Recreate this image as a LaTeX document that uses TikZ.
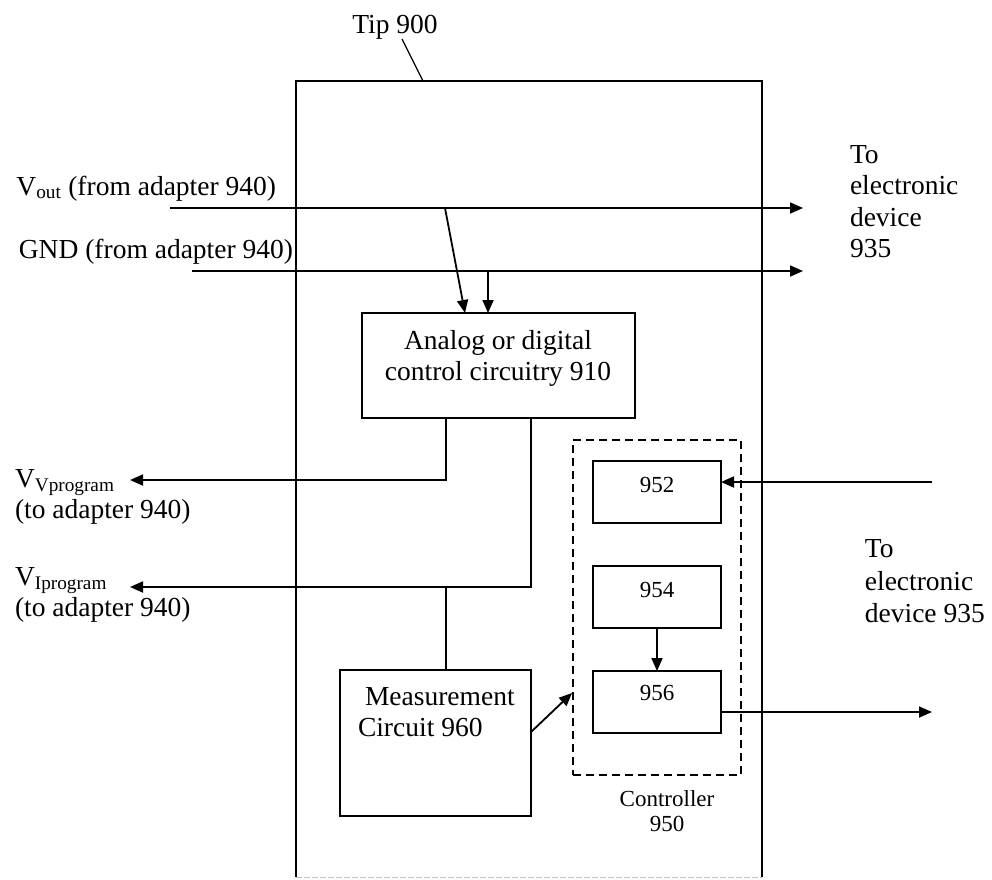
\documentclass[tikz,border=0pt]{standalone}
\usepackage{fontspec}
\setmainfont{Liberation Serif}
\usetikzlibrary{arrows.meta}
\begin{document}
\begin{tikzpicture}[x=1pt,y=-1pt,
  line width=1.8pt,
  >={Triangle[length=13pt,width=11pt]},
  box/.style={draw, line width=1.8pt, inner sep=0pt, outer sep=0pt, anchor=north west},
  frame/.style={inner sep=0pt, outer sep=0pt, anchor=north west},
  txt/.style={font=\fontsize{27.5}{31.5}\selectfont, inner sep=0pt, outer sep=0pt},
  small/.style={font=\fontsize{23}{25}\selectfont, inner sep=0pt, outer sep=0pt},
  wire/.style={line width=1.8pt},
  arr/.style={wire, ->}]
\useasboundingbox (0,0) rectangle (992,879);

% outer tip frame
\node[frame, minimum width=466pt, minimum height=796pt] (tip) at (296,81) {};
\draw[line width=1.6pt] (tip.south west) -- (tip.north west) -- (tip.north east) -- (tip.south east);
\draw[line width=1pt, black!25, dash pattern=on 6pt off 2pt] (tip.south west) -- (tip.south east);
\node[txt, anchor=base] (tiplbl) at (395,33) {Tip 900};
\coordinate (tiplead) at (402,39);
\coordinate (tipedge) at (423,81);
\draw[line width=1.3pt] (tiplead) -- (tipedge);

% Vout and GND lines
\coordinate (voutin) at (170,208);
\coordinate (voutend) at (803,208);
\draw[arr] (voutin) -- (voutend);
\node[txt, anchor=base east] (voutlbl) at (276,195) {V\textsubscript{out} (from adapter 940)};

\coordinate (gndin) at (192,271);
\coordinate (gndend) at (803,271);
\draw[arr] (gndin) -- (gndend);
\node[txt, anchor=base east] (gndlbl) at (293,258) {GND (from adapter 940)};

% control circuitry
\node[box, minimum width=273pt, minimum height=105pt] (ctl) at (362,313) {};
\node[txt, align=center, anchor=north] (ctltxt) at (498,330) {Analog or digital\\control circuitry 910};

\coordinate (vouttap) at (445,208);
\coordinate (ctlin1) at (465,313);
\draw[arr] (vouttap) -- (ctlin1);
\coordinate (gndtap) at (488,271);
\draw[arr] (gndtap) -- (gndtap |- ctl.north);

% program outputs
\coordinate (ctlb1) at (446,418);
\coordinate (vvpout) at (130,480);
\draw[arr] (ctlb1) |- (vvpout);
\node[txt, align=left, anchor=north west] (vvplbl) at (15,469) {V\textsubscript{Vprogram}\\(to adapter 940)};

\coordinate (ctlb2) at (531,418);
\coordinate (vipout) at (130,587);
\draw[arr] (ctlb2) |- (vipout);
\node[txt, align=left, anchor=north west] (viplbl) at (15,567) {V\textsubscript{Iprogram}\\(to adapter 940)};

% measurement circuit
\node[box, minimum width=191pt, minimum height=146pt] (meas) at (340,670) {};
\node[txt, align=left, anchor=north west] (meastxt) at (358,687) {\hspace*{7pt}Measurement\\Circuit 960};
\coordinate (meastop) at (446,670);
\draw[wire] (meastop) -- (meastop |- vipout);

% controller
\node[box, dash pattern=on 8pt off 5pt, minimum width=168pt, minimum height=335pt] (ctrl) at (573,440) {};
\node[small, align=center, anchor=north] (ctrllbl) at (667,791) {Controller\\950};

\node[box, minimum width=128pt, minimum height=62pt] (b952) at (593,461) {};
\node[small, anchor=base] (t952) at (657,492) {952};
\node[box, minimum width=128pt, minimum height=62pt] (b954) at (593,566) {};
\node[small, anchor=base] (t954) at (657,597) {954};
\node[box, minimum width=128pt, minimum height=62pt] (b956) at (593,671) {};
\node[small, anchor=base] (t956) at (657,700) {956};
\draw[arr] (b954.south) -- (b956.north);

\coordinate (measout) at (531,732);
\coordinate (ctrlin) at (572,693);
\draw[arr] (measout) -- (ctrlin);

\coordinate (in952) at (932,482);
\draw[arr] (in952) -- (in952 -| b952.east);
\coordinate (out956) at (932,712);
\draw[arr] (out956 -| b956.east) -- (out956);

% right labels
\node[txt, align=left, anchor=north west] (dev1) at (850,145) {To\\electronic\\device\\935};
\node[font=\fontsize{27.5}{32.5}\selectfont, inner sep=0pt, align=left, anchor=north west] (dev2) at (864,539) {To\\electronic\\device 935};
\end{tikzpicture}
\end{document}
